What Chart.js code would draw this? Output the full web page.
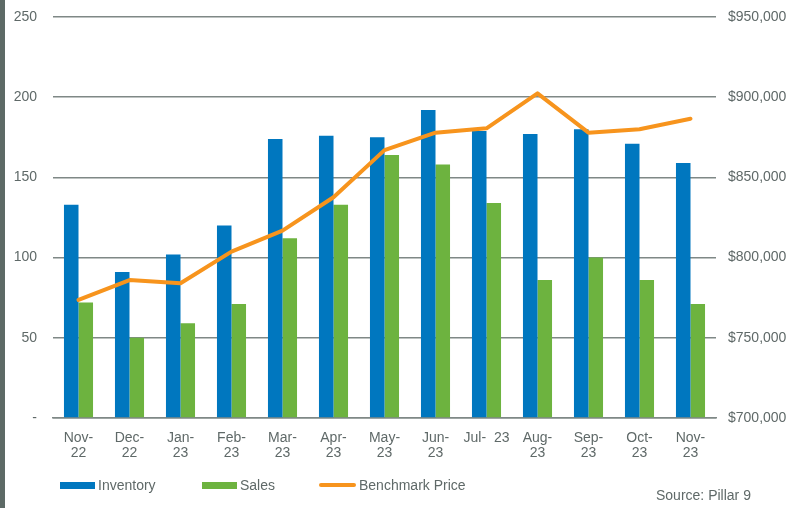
<!DOCTYPE html>
<html>
<head>
<meta charset="utf-8">
<script src="https://cdn.jsdelivr.net/npm/chart.js@4/dist/chart.umd.min.js"></script>
<style>
  html,body{margin:0;padding:0;background:#fff;}
  #wrap{position:relative;width:808px;height:508px;overflow:hidden;font-family:"Liberation Sans",Arial,sans-serif;color:#5f6968;}
  #strip{position:absolute;left:0;top:0;width:5px;height:508px;background:#5d6a66;}
  canvas{position:absolute;left:0;top:0;}
  .leg{position:absolute;top:477px;font-size:14px;line-height:16px;}
  .sw{position:absolute;}
  #src{position:absolute;left:656px;top:487px;font-size:14px;}
</style>
</head>
<body>
<div id="wrap">
  <div id="strip"></div>
  <canvas id="c" width="808" height="508"></canvas>
  <div class="sw" style="left:60px;top:482px;width:35px;height:7px;background:#0077bf;"></div>
  <div class="leg" style="left:98px;">Inventory</div>
  <div class="sw" style="left:202px;top:482px;width:35px;height:7px;background:#6db33f;"></div>
  <div class="leg" style="left:240px;">Sales</div>
  <div class="sw" style="left:319px;top:483px;width:37px;height:4px;border-radius:2px;background:#f7941d;"></div>
  <div class="leg" style="left:359px;">Benchmark Price</div>
  <div id="src">Source: Pillar 9</div>
</div>
<script>
const categories = [["Nov-","22"],["Dec-","22"],["Jan-","23"],["Feb-","23"],["Mar-","23"],["Apr-","23"],["May-","23"],["Jun-","23"],"Jul-  23",["Aug-","23"],["Sep-","23"],["Oct-","23"],["Nov-","23"]];
const inventory = [133, 91, 102, 120, 174, 176, 175, 192, 179, 177, 180, 171, 159];
const sales = [72, 50, 59, 71, 112, 133, 164, 158, 134, 86, 100, 86, 71];
const benchmarkPrice = [773600, 786000, 784000, 803700, 816800, 837600, 867000, 877900, 880600, 902400, 877900, 880000, 886600];
const leftTicks = [0, 50, 100, 150, 200, 250];
const rightTicks = [700000, 750000, 800000, 850000, 900000, 950000];

const textColor = '#5f6968';
const gridColor = '#7f8886';
const font = {family: '"Liberation Sans", Arial, sans-serif', size: 14, lineHeight: 1.1};

new Chart(document.getElementById('c'), {
  data: {
    labels: categories,
    datasets: [
      {type:'line', label:'Benchmark Price', data: benchmarkPrice, yAxisID:'y1', borderColor:'#f7941d', backgroundColor:'#f7941d', borderWidth:4, pointRadius:0, tension:0, order:0, borderCapStyle:'round', borderJoinStyle:'round'},
      {type:'bar', label:'Inventory', data: inventory, yAxisID:'y', backgroundColor:'#0077bf', categoryPercentage:0.57, barPercentage:1, order:1},
      {type:'bar', label:'Sales', data: sales, yAxisID:'y', backgroundColor:'#6db33f', categoryPercentage:0.57, barPercentage:1, order:1}
    ]
  },
  options: {
    responsive:false,
    animation:false,
    layout:{padding:{top:17,left:5,right:0,bottom:0}},
    plugins:{legend:{display:false}, tooltip:{enabled:false}},
    scales:{
      x:{
        offset:true,
        grid:{display:false, drawTicks:false},
        border:{display:true, color:gridColor, width:1.5},
        ticks:{color:textColor, font:font, padding:12, maxRotation:0, autoSkip:false},
        afterFit(s){ s.height = 90; s.paddingLeft = 0; s.paddingRight = 0; }
      },
      y:{
        position:'left',
        min:0, max:250,
        afterBuildTicks(s){ s.ticks = leftTicks.map(v=>({value:v})); },
        grid:{color:gridColor, lineWidth:1.5, drawTicks:false},
        border:{display:false},
        ticks:{color:textColor, font:font, padding:16, callback:v => v===0 ? '-' : String(v)},
        afterFit(s){ s.width = 48; s.paddingTop = 0; s.paddingBottom = 0; }
      },
      y1:{
        position:'right',
        min:700000, max:950000,
        afterBuildTicks(s){ s.ticks = rightTicks.map(v=>({value:v})); },
        grid:{display:false, drawTicks:false},
        border:{display:false},
        ticks:{color:textColor, font:font, padding:12, callback:v => '$' + Number(v).toLocaleString('en-US')},
        afterFit(s){ s.width = 92; s.paddingTop = 0; s.paddingBottom = 0; }
      }
    }
  }
});
</script>
</body>
</html>
